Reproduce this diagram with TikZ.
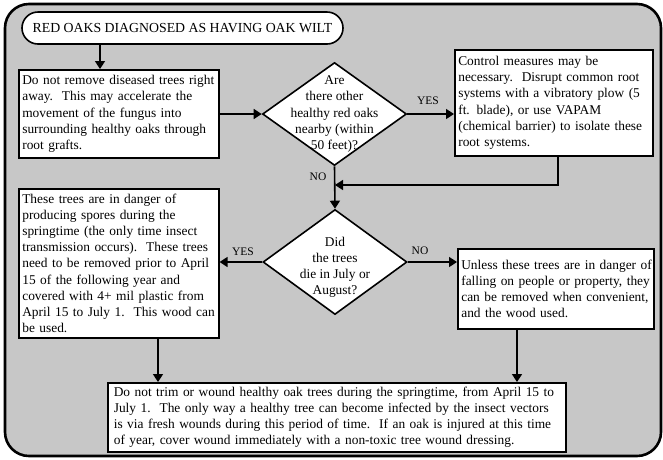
\documentclass[tikz,border=0pt]{standalone}
\usepackage{fontspec}
\setmainfont{Liberation Serif}
\usetikzlibrary{arrows.meta,shapes.geometric}
\begin{document}
\begin{tikzpicture}[x=1pt,y=-1pt,
  every node/.style={font=\fontsize{13.4}{16.1}\selectfont},
  txtbox/.style={draw=black,fill=white,line width=1.6pt,rectangle,align=left,inner sep=3.5pt,anchor=north west},
  dia/.style={draw=black,fill=white,line width=1.6pt,diamond,inner sep=0pt},
  diatext/.style={align=center,inner sep=0pt},
  conn/.style={line width=1.6pt,-{Triangle[length=8pt,width=10pt]}},
  lbl/.style={font=\fontsize{11.5}{13}\selectfont,inner sep=0pt}
]
\useasboundingbox (0,0) rectangle (663,459);
% frame
\draw[line width=2.6pt,fill=gray!44,rounded corners=24pt] (5,4) rectangle (661,456);
% title
\node[draw=black,fill=white,line width=1.6pt,rounded corners=16pt,minimum width=321pt,minimum height=32pt,inner sep=0pt,font=\fontsize{13.8}{16}\selectfont] (t) at (182.5,28) {RED OAKS DIAGNOSED AS HAVING OAK WILT};
% box 1
\node[txtbox,minimum width=200pt,minimum height=88pt,text width=193pt] (b1) at (18,69) {Do not remove diseased trees right\\away.\ \ This may accelerate the\\movement of the fungus into\\surrounding healthy oaks through\\root grafts.};
% diamond 1
\node[dia,minimum width=144pt,minimum height=103pt] (d1) at (334.5,114) {};
\node[diatext] (d1t) at (d1.center) {Are\\there other\\healthy red oaks\\nearby (within\\50 feet)?};
% box 2
\node[txtbox,minimum width=198pt,minimum height=106pt,text width=191pt] (b2) at (454,49) {Control measures may be\\necessary.\ \ Disrupt common root\\systems with a vibratory plow (5\\ft. blade), or use VAPAM\\(chemical barrier) to isolate these\\root systems.};
% diamond 2
\node[dia,minimum width=144pt,minimum height=105pt] (d2) at (335,262) {};
\node[diatext] (d2t) at ([yshift=-5pt]d2.center) {Did\\the trees\\die in July or\\August?};
% box 3
\node[txtbox,minimum width=200pt,minimum height=149pt,text width=193pt] (b3) at (18,188) {These trees are in danger of\\producing spores during the\\springtime (the only time insect\\transmission occurs).\ \ These trees\\need to be removed prior to April\\15 of the following year and\\covered with 4+ mil plastic from\\April 15 to July 1.\ \ This wood can\\be used.};
% box 4
\node[txtbox,minimum width=196pt,minimum height=80pt,text width=193pt,inner xsep=1.5pt] (b4) at (457,248) {\hspace*{2pt}Unless these trees are in danger of\\\hspace*{2pt}falling on people or property, they\\\hspace*{2pt}can be removed when convenient,\\\hspace*{2pt}and the wood used.};
% box 5
\node[txtbox,minimum width=453pt,minimum height=69pt,text width=446pt,inner xsep=6pt] (b5) at (107,382) {Do not trim or wound healthy oak trees during the springtime, from April 15 to\\July 1.\ \ The only way a healthy tree can become infected by the insect vectors\\is via fresh wounds during this period of time.\ \ If an oak is injured at this time\\of year, cover wound immediately with a non-toxic tree wound dressing.};
% helper coordinates
\coordinate (k0) at (100,0);
\coordinate (j) at (335,185);
\coordinate (k2) at (558,0);
\coordinate (k3) at (158,0);
\coordinate (k4) at (517,0);
% connectors
\draw[conn] (t.south -| k0) -- (b1.north -| k0);
\draw[conn] (b1.east |- d1.west) -- (d1.west);
\draw[conn] (d1.east) -- (b2.west |- d1.east);
\draw[conn] (d1.south) -- (d2.north);
\draw[conn] (b2.south -| k2) |- (j);
\draw[conn] (d2.west) -- (b3.east |- d2.west);
\draw[conn] (d2.east) -- (b4.west |- d2.east);
\draw[conn] (b3.south -| k3) -- (b5.north -| k3);
\draw[conn] (b4.south -| k4) -- (b5.north -| k4);
% labels
\node[lbl] (l1) at (428,101) {YES};
\node[lbl] (l2) at (318,177) {NO};
\node[lbl] (l3) at (420,251) {NO};
\node[lbl] (l4) at (243,252) {YES};
\end{tikzpicture}
\end{document}
